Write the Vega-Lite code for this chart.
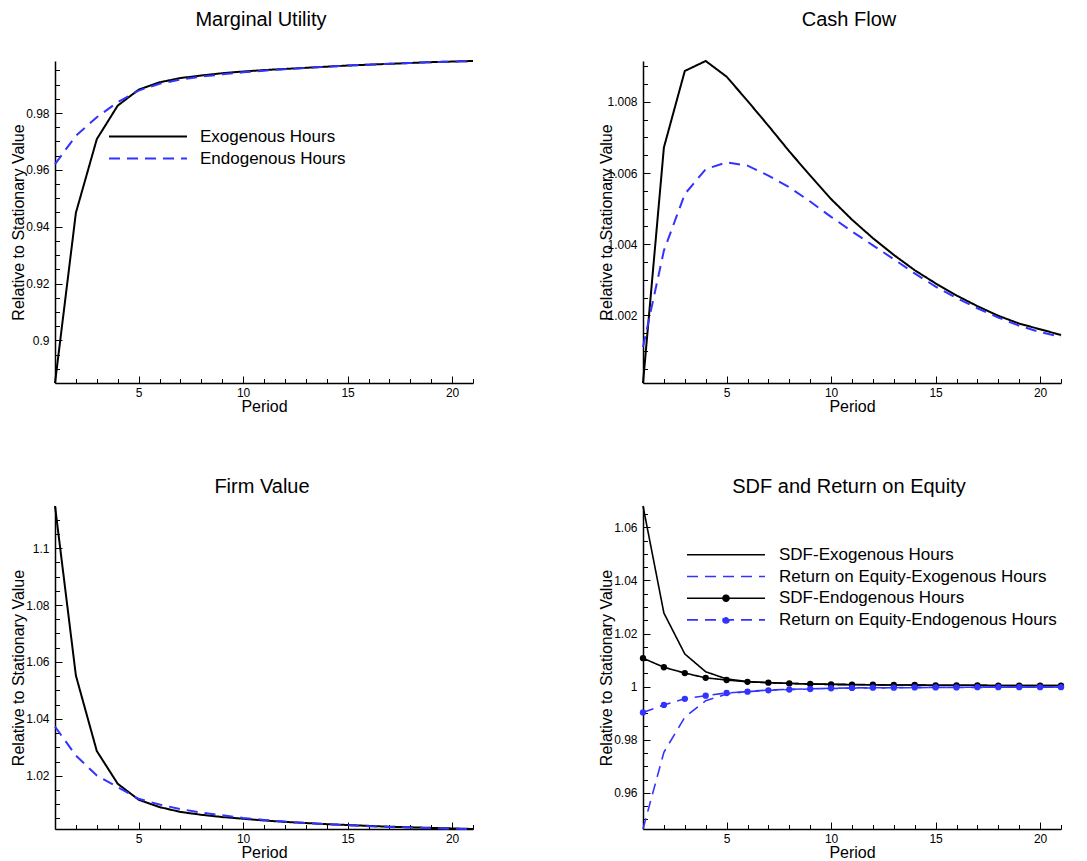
{
  "$schema": "https://vega.github.io/schema/vega-lite/v6.json",
  "background": "white",
  "padding": {"left": 10, "top": 10, "right": 0, "bottom": 0},
  "config": {
    "view": {"stroke": null},
    "axis": {"labelFont": "Liberation Sans", "titleFont": "Liberation Sans", "labelColor": "black", "titleColor": "black", "tickColor": "black", "domainColor": "black", "labelFontSize": 12, "titleFontSize": 16, "titleFontWeight": "normal", "grid": false, "domainWidth": 1.5, "tickWidth": 1},
    "legend": {"labelFont": "Liberation Sans", "labelFontSize": 17, "labelColor": "black", "padding": 0, "symbolStrokeWidth": 2, "labelLimit": 0}
  },
  "datasets": {
    "mu": [
      {"p": 1, "Exogenous Hours": 0.885, "Endogenous Hours": 0.962},
      {"p": 2, "Exogenous Hours": 0.9449, "Endogenous Hours": 0.972},
      {"p": 3, "Exogenous Hours": 0.9708, "Endogenous Hours": 0.9785},
      {"p": 4, "Exogenous Hours": 0.9826, "Endogenous Hours": 0.9838},
      {"p": 5, "Exogenous Hours": 0.9882, "Endogenous Hours": 0.9879},
      {"p": 6, "Exogenous Hours": 0.9908, "Endogenous Hours": 0.9903},
      {"p": 7, "Exogenous Hours": 0.9923, "Endogenous Hours": 0.9918},
      {"p": 8, "Exogenous Hours": 0.9932, "Endogenous Hours": 0.9928},
      {"p": 9, "Exogenous Hours": 0.994, "Endogenous Hours": 0.9936},
      {"p": 10, "Exogenous Hours": 0.9946, "Endogenous Hours": 0.9943},
      {"p": 11, "Exogenous Hours": 0.9951, "Endogenous Hours": 0.9949},
      {"p": 12, "Exogenous Hours": 0.9955, "Endogenous Hours": 0.9954},
      {"p": 13, "Exogenous Hours": 0.9959, "Endogenous Hours": 0.9959},
      {"p": 14, "Exogenous Hours": 0.9963, "Endogenous Hours": 0.9963},
      {"p": 15, "Exogenous Hours": 0.9967, "Endogenous Hours": 0.9967},
      {"p": 16, "Exogenous Hours": 0.997, "Endogenous Hours": 0.997},
      {"p": 17, "Exogenous Hours": 0.9973, "Endogenous Hours": 0.9973},
      {"p": 18, "Exogenous Hours": 0.9976, "Endogenous Hours": 0.9976},
      {"p": 19, "Exogenous Hours": 0.9979, "Endogenous Hours": 0.9979},
      {"p": 20, "Exogenous Hours": 0.9981, "Endogenous Hours": 0.9981},
      {"p": 21, "Exogenous Hours": 0.9983, "Endogenous Hours": 0.9983}
    ],
    "cf": [
      {"p": 1, "Exogenous Hours": 1.0001, "Endogenous Hours": 1.00111},
      {"p": 2, "Exogenous Hours": 1.00672, "Endogenous Hours": 1.00382},
      {"p": 3, "Exogenous Hours": 1.00887, "Endogenous Hours": 1.00541},
      {"p": 4, "Exogenous Hours": 1.00915, "Endogenous Hours": 1.00611},
      {"p": 5, "Exogenous Hours": 1.00871, "Endogenous Hours": 1.0063},
      {"p": 6, "Exogenous Hours": 1.00803, "Endogenous Hours": 1.00621},
      {"p": 7, "Exogenous Hours": 1.00733, "Endogenous Hours": 1.00593},
      {"p": 8, "Exogenous Hours": 1.00661, "Endogenous Hours": 1.0056},
      {"p": 9, "Exogenous Hours": 1.00593, "Endogenous Hours": 1.0052},
      {"p": 10, "Exogenous Hours": 1.00527, "Endogenous Hours": 1.00477},
      {"p": 11, "Exogenous Hours": 1.00469, "Endogenous Hours": 1.00436},
      {"p": 12, "Exogenous Hours": 1.00417, "Endogenous Hours": 1.00397},
      {"p": 13, "Exogenous Hours": 1.0037, "Endogenous Hours": 1.00358},
      {"p": 14, "Exogenous Hours": 1.00327, "Endogenous Hours": 1.00318},
      {"p": 15, "Exogenous Hours": 1.0029, "Endogenous Hours": 1.00281},
      {"p": 16, "Exogenous Hours": 1.00256, "Endogenous Hours": 1.00249},
      {"p": 17, "Exogenous Hours": 1.00226, "Endogenous Hours": 1.0022},
      {"p": 18, "Exogenous Hours": 1.00199, "Endogenous Hours": 1.00194},
      {"p": 19, "Exogenous Hours": 1.00177, "Endogenous Hours": 1.00171},
      {"p": 20, "Exogenous Hours": 1.00161, "Endogenous Hours": 1.00153},
      {"p": 21, "Exogenous Hours": 1.00145, "Endogenous Hours": 1.0014}
    ],
    "fv": [
      {"p": 1, "Exogenous Hours": 1.1148, "Endogenous Hours": 1.0373},
      {"p": 2, "Exogenous Hours": 1.0552, "Endogenous Hours": 1.0271},
      {"p": 3, "Exogenous Hours": 1.0287, "Endogenous Hours": 1.0201},
      {"p": 4, "Exogenous Hours": 1.0172, "Endogenous Hours": 1.016},
      {"p": 5, "Exogenous Hours": 1.0116, "Endogenous Hours": 1.0119},
      {"p": 6, "Exogenous Hours": 1.009, "Endogenous Hours": 1.0099},
      {"p": 7, "Exogenous Hours": 1.0073, "Endogenous Hours": 1.0083},
      {"p": 8, "Exogenous Hours": 1.0063, "Endogenous Hours": 1.0071},
      {"p": 9, "Exogenous Hours": 1.0055, "Endogenous Hours": 1.0061},
      {"p": 10, "Exogenous Hours": 1.0049, "Endogenous Hours": 1.0052},
      {"p": 11, "Exogenous Hours": 1.0043, "Endogenous Hours": 1.0045},
      {"p": 12, "Exogenous Hours": 1.0038, "Endogenous Hours": 1.0039},
      {"p": 13, "Exogenous Hours": 1.0034, "Endogenous Hours": 1.0034},
      {"p": 14, "Exogenous Hours": 1.003, "Endogenous Hours": 1.003},
      {"p": 15, "Exogenous Hours": 1.0027, "Endogenous Hours": 1.0026},
      {"p": 16, "Exogenous Hours": 1.0024, "Endogenous Hours": 1.0023},
      {"p": 17, "Exogenous Hours": 1.0021, "Endogenous Hours": 1.002},
      {"p": 18, "Exogenous Hours": 1.0019, "Endogenous Hours": 1.0018},
      {"p": 19, "Exogenous Hours": 1.0017, "Endogenous Hours": 1.0016},
      {"p": 20, "Exogenous Hours": 1.0015, "Endogenous Hours": 1.0014},
      {"p": 21, "Exogenous Hours": 1.0013, "Endogenous Hours": 1.0013}
    ],
    "sdf": [
      {"p": 1, "SDF-Exogenous Hours": 1.068, "Return on Equity-Exogenous Hours": 0.9464, "SDF-Endogenous Hours": 1.0107, "Return on Equity-Endogenous Hours": 0.9903},
      {"p": 2, "SDF-Exogenous Hours": 1.0277, "Return on Equity-Exogenous Hours": 0.9753, "SDF-Endogenous Hours": 1.0073, "Return on Equity-Endogenous Hours": 0.9931},
      {"p": 3, "SDF-Exogenous Hours": 1.0123, "Return on Equity-Exogenous Hours": 0.9885, "SDF-Endogenous Hours": 1.0051, "Return on Equity-Endogenous Hours": 0.9954},
      {"p": 4, "SDF-Exogenous Hours": 1.0056, "Return on Equity-Exogenous Hours": 0.9947, "SDF-Endogenous Hours": 1.0033, "Return on Equity-Endogenous Hours": 0.9966},
      {"p": 5, "SDF-Exogenous Hours": 1.0029, "Return on Equity-Exogenous Hours": 0.9972, "SDF-Endogenous Hours": 1.0025, "Return on Equity-Endogenous Hours": 0.9976},
      {"p": 6, "SDF-Exogenous Hours": 1.0019, "Return on Equity-Exogenous Hours": 0.9982, "SDF-Endogenous Hours": 1.0018, "Return on Equity-Endogenous Hours": 0.9981},
      {"p": 7, "SDF-Exogenous Hours": 1.0015, "Return on Equity-Exogenous Hours": 0.9987, "SDF-Endogenous Hours": 1.0015, "Return on Equity-Endogenous Hours": 0.9986},
      {"p": 8, "SDF-Exogenous Hours": 1.0012, "Return on Equity-Exogenous Hours": 0.999, "SDF-Endogenous Hours": 1.0012, "Return on Equity-Endogenous Hours": 0.9989},
      {"p": 9, "SDF-Exogenous Hours": 1.001, "Return on Equity-Exogenous Hours": 0.9992, "SDF-Endogenous Hours": 1.001, "Return on Equity-Endogenous Hours": 0.9991},
      {"p": 10, "SDF-Exogenous Hours": 1.0009, "Return on Equity-Exogenous Hours": 0.9993, "SDF-Endogenous Hours": 1.0008, "Return on Equity-Endogenous Hours": 0.9994},
      {"p": 11, "SDF-Exogenous Hours": 1.0008, "Return on Equity-Exogenous Hours": 0.9994, "SDF-Endogenous Hours": 1.0007, "Return on Equity-Endogenous Hours": 0.9995},
      {"p": 12, "SDF-Exogenous Hours": 1.0007, "Return on Equity-Exogenous Hours": 0.9995, "SDF-Endogenous Hours": 1.0007, "Return on Equity-Endogenous Hours": 0.9996},
      {"p": 13, "SDF-Exogenous Hours": 1.0006, "Return on Equity-Exogenous Hours": 0.9996, "SDF-Endogenous Hours": 1.0006, "Return on Equity-Endogenous Hours": 0.9996},
      {"p": 14, "SDF-Exogenous Hours": 1.0006, "Return on Equity-Exogenous Hours": 0.9996, "SDF-Endogenous Hours": 1.0006, "Return on Equity-Endogenous Hours": 0.9997},
      {"p": 15, "SDF-Exogenous Hours": 1.0005, "Return on Equity-Exogenous Hours": 0.9997, "SDF-Endogenous Hours": 1.0005, "Return on Equity-Endogenous Hours": 0.9997},
      {"p": 16, "SDF-Exogenous Hours": 1.0005, "Return on Equity-Exogenous Hours": 0.9997, "SDF-Endogenous Hours": 1.0005, "Return on Equity-Endogenous Hours": 0.9997},
      {"p": 17, "SDF-Exogenous Hours": 1.0005, "Return on Equity-Exogenous Hours": 0.9997, "SDF-Endogenous Hours": 1.0005, "Return on Equity-Endogenous Hours": 0.9998},
      {"p": 18, "SDF-Exogenous Hours": 1.0004, "Return on Equity-Exogenous Hours": 0.9998, "SDF-Endogenous Hours": 1.0004, "Return on Equity-Endogenous Hours": 0.9998},
      {"p": 19, "SDF-Exogenous Hours": 1.0004, "Return on Equity-Exogenous Hours": 0.9998, "SDF-Endogenous Hours": 1.0004, "Return on Equity-Endogenous Hours": 0.9998},
      {"p": 20, "SDF-Exogenous Hours": 1.0004, "Return on Equity-Exogenous Hours": 0.9998, "SDF-Endogenous Hours": 1.0004, "Return on Equity-Endogenous Hours": 0.9998},
      {"p": 21, "SDF-Exogenous Hours": 1.0004, "Return on Equity-Exogenous Hours": 0.9998, "SDF-Endogenous Hours": 1.0004, "Return on Equity-Endogenous Hours": 0.9998}
    ]
  },
  "concat": [
    {
      "title": {"text": "Marginal Utility", "frame": "group", "anchor": "middle", "offset": 11, "dx": -3, "baseline": "alphabetic", "fontSize": 20, "fontWeight": "normal", "font": "Liberation Sans", "color": "black"},
      "width": 418, "height": 322,
      "data": {"name": "mu"},
      "transform": [{"fold": ["Exogenous Hours", "Endogenous Hours"], "as": ["series", "v"]}],
      "layer": [
        {
          "mark": {"type": "line", "strokeWidth": 2},
          "encoding": {
            "x": {"field": "p", "type": "quantitative", "scale": {"domain": [1, 21], "nice": false, "zero": false},
              "axis": {"orient": "bottom", "values": [5, 10, 15, 20], "tickSize": -7, "labelPadding": 20, "labelBaseline": "alphabetic", "labelFlush": false, "labelOverlap": false, "title": "Period", "titleY": 28, "titleBaseline": "alphabetic", "format": "d"}},
            "y": {"field": "v", "type": "quantitative", "scale": {"domain": [0.885, 0.9983], "nice": false, "zero": false},
              "axis": {"orient": "left", "values": [0.9, 0.92, 0.94, 0.96, 0.98], "tickSize": -7, "labelPadding": 13, "labelBaseline": "middle", "labelFlush": false, "labelOverlap": false, "title": "Relative to Stationary Value", "titleX": -32, "titleBaseline": "alphabetic", "format": "~g"}},
            "color": {"field": "series", "type": "nominal", "scale": {"domain": ["Exogenous Hours", "Endogenous Hours"], "range": ["black", "#3333ff"]},
              "legend": {"orient": "none", "legendX": 82, "legendY": 64.5, "title": null, "symbolType": "M-3.9,0H3.9", "symbolSize": 400, "labelOffset": 41, "rowPadding": 3, "encode": {"symbols": {"update": {"fill": {"value": "transparent"}}}}}},
            "strokeDash": {"field": "series", "type": "nominal", "scale": {"domain": ["Exogenous Hours", "Endogenous Hours"], "range": [[1, 0], [11, 7]]}}
          }
        },
        {
          "mark": {"type": "line", "opacity": 0},
          "encoding": {
            "x": {"field": "p", "type": "quantitative", "axis": {"orient": "bottom", "values": [1, 2, 3, 4, 6, 7, 8, 9, 11, 12, 13, 14, 16, 17, 18, 19, 21], "tickSize": -4.5, "labels": false, "domain": false, "title": null}},
            "y": {"field": "v", "type": "quantitative", "axis": {"orient": "left", "values": [0.89, 0.895, 0.905, 0.91, 0.915, 0.925, 0.93, 0.935, 0.945, 0.95, 0.955, 0.965, 0.97, 0.975, 0.985, 0.99, 0.995], "tickSize": -4.5, "labels": false, "domain": false, "title": null}},
            "detail": {"field": "series"}
          }
        }
      ],
      "resolve": {"axis": {"x": "independent", "y": "independent"}}
    },
    {
      "title": {"text": "Cash Flow", "frame": "group", "anchor": "middle", "offset": 11, "dx": -3, "baseline": "alphabetic", "fontSize": 20, "fontWeight": "normal", "font": "Liberation Sans", "color": "black"},
      "width": 418, "height": 322,
      "data": {"name": "cf"},
      "transform": [{"fold": ["Exogenous Hours", "Endogenous Hours"], "as": ["series", "v"]}],
      "layer": [
        {
          "mark": {"type": "line", "strokeWidth": 2},
          "encoding": {
            "x": {"field": "p", "type": "quantitative", "scale": {"domain": [1, 21], "nice": false, "zero": false},
              "axis": {"orient": "bottom", "values": [5, 10, 15, 20], "tickSize": -7, "labelPadding": 20, "labelBaseline": "alphabetic", "labelFlush": false, "labelOverlap": false, "title": "Period", "titleY": 28, "titleBaseline": "alphabetic", "format": "d"}},
            "y": {"field": "v", "type": "quantitative", "scale": {"domain": [1.0001, 1.00915], "nice": false, "zero": false},
              "axis": {"orient": "left", "values": [1.002, 1.004, 1.006, 1.008], "tickSize": -7, "labelPadding": 13, "labelBaseline": "middle", "labelFlush": false, "labelOverlap": false, "title": "Relative to Stationary Value", "titleX": -32, "titleBaseline": "alphabetic", "format": "~g"}},
            "color": {"field": "series", "type": "nominal", "scale": {"domain": ["Exogenous Hours", "Endogenous Hours"], "range": ["black", "#3333ff"]}, "legend": null},
            "strokeDash": {"field": "series", "type": "nominal", "scale": {"domain": ["Exogenous Hours", "Endogenous Hours"], "range": [[1, 0], [11, 7]]}, "legend": null}
          }
        },
        {
          "mark": {"type": "line", "opacity": 0},
          "encoding": {
            "x": {"field": "p", "type": "quantitative", "axis": {"orient": "bottom", "values": [1, 2, 3, 4, 6, 7, 8, 9, 11, 12, 13, 14, 16, 17, 18, 19, 21], "tickSize": -4.5, "labels": false, "domain": false, "title": null}},
            "y": {"field": "v", "type": "quantitative", "axis": {"orient": "left", "values": [1.0005, 1.001, 1.0015, 1.0025, 1.003, 1.0035, 1.0045, 1.005, 1.0055, 1.0065, 1.007, 1.0075, 1.0085, 1.009], "tickSize": -4.5, "labels": false, "domain": false, "title": null}},
            "detail": {"field": "series"}
          }
        }
      ],
      "resolve": {"axis": {"x": "independent", "y": "independent"}}
    },
    {
      "title": {"text": "Firm Value", "frame": "group", "anchor": "middle", "offset": -10.5, "dx": -2, "baseline": "alphabetic", "fontSize": 20, "fontWeight": "normal", "font": "Liberation Sans", "color": "black"},
      "width": 418, "height": 323,
      "data": {"name": "fv"},
      "transform": [{"fold": ["Exogenous Hours", "Endogenous Hours"], "as": ["series", "v"]}],
      "layer": [
        {
          "mark": {"type": "line", "strokeWidth": 2},
          "encoding": {
            "x": {"field": "p", "type": "quantitative", "scale": {"domain": [1, 21], "nice": false, "zero": false},
              "axis": {"orient": "bottom", "values": [5, 10, 15, 20], "tickSize": -7, "labelPadding": 20, "labelBaseline": "alphabetic", "labelFlush": false, "labelOverlap": false, "title": "Period", "titleY": 28, "titleBaseline": "alphabetic", "format": "d"}},
            "y": {"field": "v", "type": "quantitative", "scale": {"domain": [1.0013, 1.1148], "nice": false, "zero": false},
              "axis": {"orient": "left", "values": [1.02, 1.04, 1.06, 1.08, 1.1], "tickSize": -7, "labelPadding": 13, "labelBaseline": "middle", "labelFlush": false, "labelOverlap": false, "title": "Relative to Stationary Value", "titleX": -32, "titleBaseline": "alphabetic", "format": "~g"}},
            "color": {"field": "series", "type": "nominal", "scale": {"domain": ["Exogenous Hours", "Endogenous Hours"], "range": ["black", "#3333ff"]}, "legend": null},
            "strokeDash": {"field": "series", "type": "nominal", "scale": {"domain": ["Exogenous Hours", "Endogenous Hours"], "range": [[1, 0], [11, 7]]}, "legend": null}
          }
        },
        {
          "mark": {"type": "line", "opacity": 0},
          "encoding": {
            "x": {"field": "p", "type": "quantitative", "axis": {"orient": "bottom", "values": [1, 2, 3, 4, 6, 7, 8, 9, 11, 12, 13, 14, 16, 17, 18, 19, 21], "tickSize": -4.5, "labels": false, "domain": false, "title": null}},
            "y": {"field": "v", "type": "quantitative", "axis": {"orient": "left", "values": [1.005, 1.01, 1.015, 1.025, 1.03, 1.035, 1.045, 1.05, 1.055, 1.065, 1.07, 1.075, 1.085, 1.09, 1.095, 1.105, 1.11], "tickSize": -4.5, "labels": false, "domain": false, "title": null}},
            "detail": {"field": "series"}
          }
        }
      ],
      "resolve": {"axis": {"x": "independent", "y": "independent"}}
    },
    {
      "title": {"text": "SDF and Return on Equity", "frame": "group", "anchor": "middle", "offset": -10.5, "dx": -3, "baseline": "alphabetic", "fontSize": 20, "fontWeight": "normal", "font": "Liberation Sans", "color": "black"},
      "width": 418, "height": 323,
      "data": {"name": "sdf"},
      "transform": [{"fold": ["SDF-Exogenous Hours", "Return on Equity-Exogenous Hours", "SDF-Endogenous Hours", "Return on Equity-Endogenous Hours"], "as": ["series", "v"]}],
      "layer": [
        {
          "mark": {"type": "line"},
          "encoding": {
            "x": {"field": "p", "type": "quantitative", "scale": {"domain": [1, 21], "nice": false, "zero": false},
              "axis": {"orient": "bottom", "values": [5, 10, 15, 20], "tickSize": -7, "labelPadding": 20, "labelBaseline": "alphabetic", "labelFlush": false, "labelOverlap": false, "title": "Period", "titleY": 28, "titleBaseline": "alphabetic", "format": "d"}},
            "y": {"field": "v", "type": "quantitative", "scale": {"domain": [0.9464, 1.068], "nice": false, "zero": false},
              "axis": {"orient": "left", "values": [0.96, 0.98, 1, 1.02, 1.04, 1.06], "tickSize": -7, "labelPadding": 13, "labelBaseline": "middle", "labelFlush": false, "labelOverlap": false, "title": "Relative to Stationary Value", "titleX": -32, "titleBaseline": "alphabetic", "format": "~g"}},
            "color": {"field": "series", "type": "nominal", "scale": {"domain": ["SDF-Exogenous Hours", "Return on Equity-Exogenous Hours", "SDF-Endogenous Hours", "Return on Equity-Endogenous Hours"], "range": ["black", "#3333ff", "black", "#3333ff"]},
              "legend": {"orient": "none", "legendX": 72, "legendY": 37.8, "title": null, "symbolType": "M-3.9,0H3.9", "symbolSize": 400, "labelOffset": 42, "rowPadding": 2.7,
                "encode": {"symbols": {"update": {
                  "strokeWidth": {"value": 2},
                  "fill": [{"test": "datum.value === 'SDF-Endogenous Hours'", "value": "black"}, {"test": "datum.value === 'Return on Equity-Endogenous Hours'", "value": "#3333ff"}, {"value": "transparent"}],
                  "shape": [{"test": "indexof(datum.value, 'Endogenous') >= 0", "value": "M-3.9,0H3.9M0.3,0A0.3,0.3,0,1,1,-0.3,0A0.3,0.3,0,1,1,0.3,0Z"}, {"value": "M-3.9,0H3.9"}]
                }}}}},
            "strokeDash": {"field": "series", "type": "nominal", "scale": {"domain": ["SDF-Exogenous Hours", "Return on Equity-Exogenous Hours", "SDF-Endogenous Hours", "Return on Equity-Endogenous Hours"], "range": [[1, 0], [11, 7], [1, 0], [11, 7]]}},
            "strokeWidth": {"field": "series", "type": "nominal", "scale": {"domain": ["SDF-Exogenous Hours", "Return on Equity-Exogenous Hours", "SDF-Endogenous Hours", "Return on Equity-Endogenous Hours"], "range": [1.6, 1.6, 2, 2]}, "legend": null}
          }
        },
        {
          "transform": [{"filter": {"field": "series", "oneOf": ["SDF-Endogenous Hours", "Return on Equity-Endogenous Hours"]}}],
          "mark": {"type": "point", "filled": true, "size": 40, "opacity": 1},
          "encoding": {
            "x": {"field": "p", "type": "quantitative", "axis": {"orient": "bottom", "values": [1, 2, 3, 4, 6, 7, 8, 9, 11, 12, 13, 14, 16, 17, 18, 19, 21], "tickSize": -4.5, "labels": false, "domain": false, "title": null}},
            "y": {"field": "v", "type": "quantitative", "axis": {"orient": "left", "values": [0.95, 0.955, 0.965, 0.97, 0.975, 0.985, 0.99, 0.995, 1.005, 1.01, 1.015, 1.025, 1.03, 1.035, 1.045, 1.05, 1.055, 1.065], "tickSize": -4.5, "labels": false, "domain": false, "title": null}},
            "color": {"field": "series", "type": "nominal", "legend": null}
          }
        }
      ],
      "resolve": {"axis": {"x": "independent", "y": "independent"}}
    }
  ],
  "columns": 2,
  "spacing": {"row": 123, "column": 170},
  "bounds": "flush",
  "resolve": {"scale": {"color": "independent", "strokeDash": "independent", "strokeWidth": "independent"}, "legend": {"color": "independent", "strokeDash": "independent", "strokeWidth": "independent"}}
}
